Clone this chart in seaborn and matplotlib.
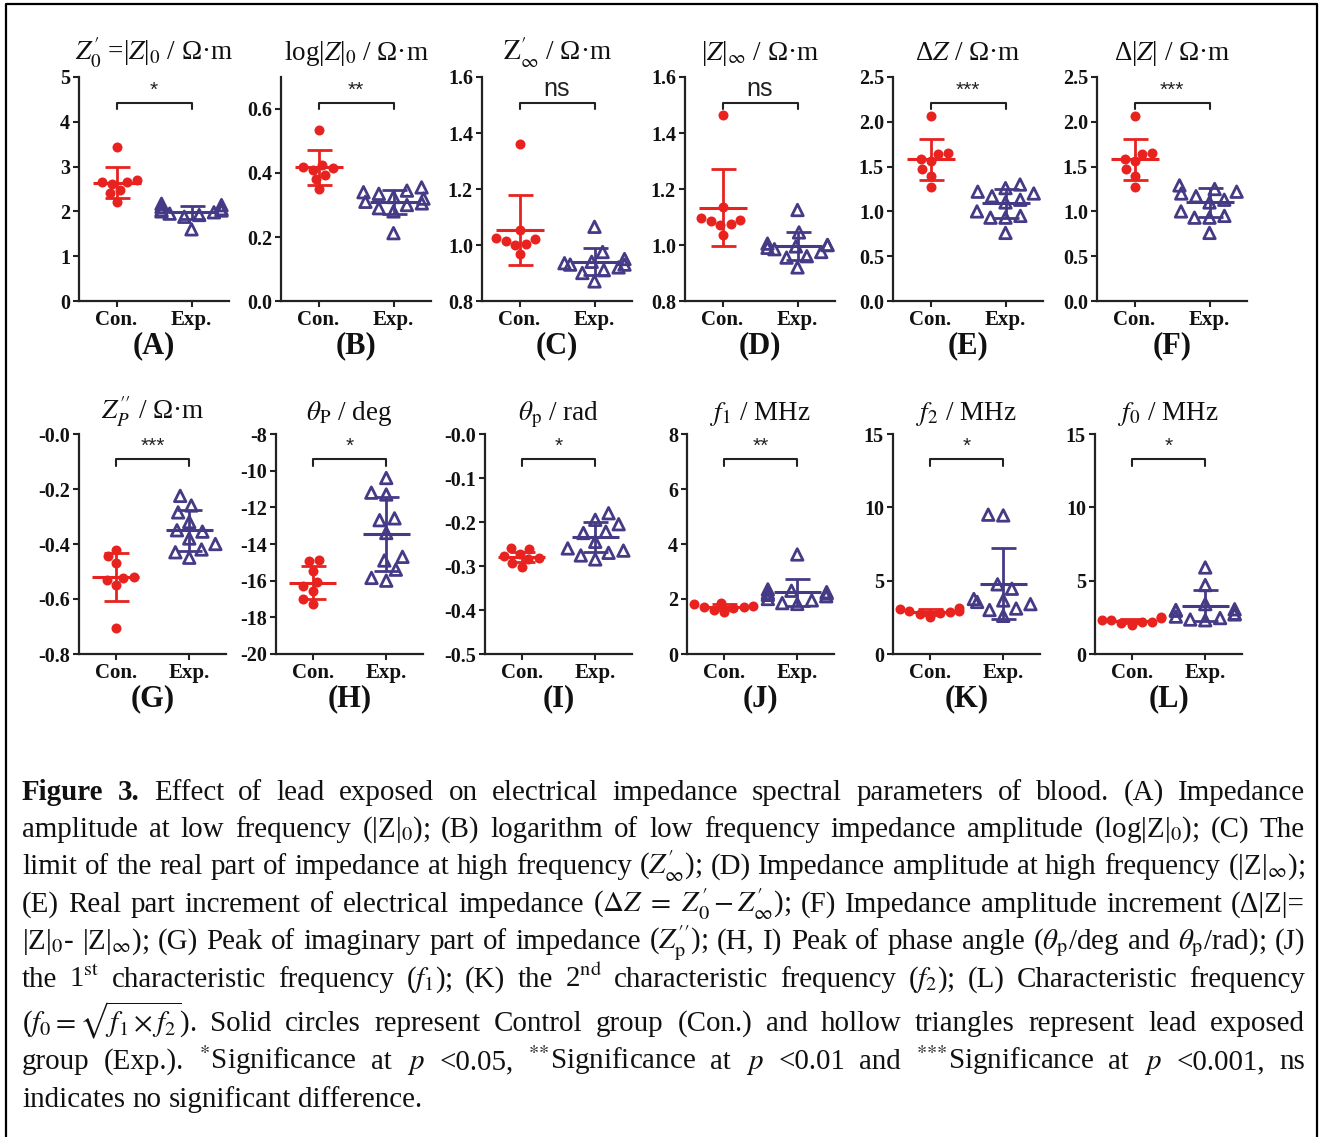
import warnings
warnings.filterwarnings("ignore")
import numpy as np
import pandas as pd
import matplotlib
matplotlib.use("Agg")
import matplotlib.pyplot as plt
import seaborn as sns
from matplotlib.transforms import blended_transform_factory
from matplotlib.lines import Line2D

# ---------------- data ----------------
groups = ["Con.", "Exp."]
panel_ids = ["A", "B", "C", "D", "E", "F", "G", "H", "I", "J", "K", "L"]
titles = [
    r"$Z_0^{\prime}$ =|$Z$|$_0$ / Ω·m",
    r"log|$Z$|$_0$ / Ω·m",
    r"$\mathrm{Z}_{\infty}^{\prime}$ / Ω·m",
    r"|$Z$|$_{\infty}$ / Ω·m",
    r"Δ$Z$ / Ω·m",
    r"Δ|$Z$| / Ω·m",
    r"$Z_{P}^{\prime\prime}$ / Ω·m",
    r"$\theta_{\mathrm{P}}$ / deg",
    r"$\theta_{\mathrm{p}}$ / rad",
    r"$f_1$ / MHz",
    r"$f_2$ / MHz",
    r"$f_0$ / MHz",
]
sig_labels = ["*", "**", "ns", "ns", "***", "***", "***", "*", "*", "**", "*", "*"]

con_A = [3.43, 2.70, 2.65, 2.65, 2.62, 2.48, 2.40, 2.22]
exp_A = [2.17, 2.14, 2.10, 2.05, 2.03, 2.02, 2.00, 1.98, 1.95, 1.92, 1.88, 1.60]
mean_A, sd_A = [2.64, 1.98], [0.35, 0.15]

con_B = [0.535, 0.425, 0.42, 0.415, 0.41, 0.395, 0.38, 0.35]
exp_B = [0.355, 0.345, 0.34, 0.335, 0.325, 0.32, 0.31, 0.305, 0.30, 0.29, 0.28, 0.212]
mean_B, sd_B = [0.418, 0.31], [0.054, 0.038]

con_C = [1.36, 1.055, 1.025, 1.02, 1.015, 1.005, 1.0, 0.967]
exp_C = [1.065, 0.975, 0.95, 0.94, 0.935, 0.93, 0.93, 0.92, 0.91, 0.90, 0.87]
mean_C, sd_C = [1.055, 0.94], [0.125, 0.048]

con_D = [1.465, 1.135, 1.095, 1.09, 1.085, 1.075, 1.07, 1.035]
exp_D = [1.125, 1.045, 1.005, 1.0, 1.0, 0.995, 0.99, 0.985, 0.975, 0.96, 0.955, 0.92]
mean_D, sd_D = [1.133, 0.998], [0.137, 0.05]

con_E = [2.06, 1.65, 1.64, 1.58, 1.56, 1.47, 1.40, 1.27]
exp_E = [1.30, 1.26, 1.22, 1.20, 1.17, 1.13, 1.10, 1.00, 0.95, 0.93, 0.93, 0.76]
mean_E, sd_E = [1.58, 1.09], [0.23, 0.16]

con_F = [2.06, 1.65, 1.64, 1.58, 1.56, 1.47, 1.40, 1.27]
exp_F = [1.29, 1.25, 1.22, 1.20, 1.17, 1.13, 1.10, 1.00, 0.95, 0.93, 0.93, 0.76]
mean_F, sd_F = [1.58, 1.10], [0.23, 0.16]

con_G = [-0.42, -0.445, -0.47, -0.52, -0.525, -0.53, -0.55, -0.705]
exp_G = [-0.225, -0.26, -0.285, -0.32, -0.35, -0.355, -0.38, -0.40, -0.42, -0.43, -0.45]
mean_G, sd_G = [-0.52, -0.35], [0.086, 0.074]

con_H = [-14.85, -14.95, -15.45, -16.05, -16.3, -16.55, -17.0, -17.25]
exp_H = [-10.4, -11.2, -11.3, -12.6, -12.7, -13.4, -14.7, -14.9, -15.4, -15.85, -16.0]
mean_H, sd_H = [-16.1, -13.45], [0.88, 2.0]

con_I = [-0.26, -0.262, -0.272, -0.278, -0.282, -0.285, -0.293, -0.303]
exp_I = [-0.18, -0.195, -0.205, -0.222, -0.225, -0.245, -0.26, -0.265, -0.27, -0.276, -0.285]
mean_I, sd_I = [-0.28, -0.235], [0.012, 0.034]

con_J = [1.87, 1.82, 1.76, 1.72, 1.70, 1.66, 1.60, 1.52]
exp_J = [3.62, 2.35, 2.30, 2.25, 2.22, 2.20, 2.15, 2.10, 2.00, 1.95, 1.85, 1.82]
mean_J, sd_J = [1.71, 2.24], [0.11, 0.50]

con_K = [3.15, 3.05, 2.95, 2.90, 2.85, 2.80, 2.70, 2.55]
exp_K = [9.5, 9.45, 4.75, 4.45, 3.75, 3.65, 3.55, 3.40, 3.10, 3.00, 2.60]
mean_K, sd_K = [2.87, 4.80], [0.18, 2.40]

con_L = [2.50, 2.45, 2.35, 2.30, 2.20, 2.15, 2.10, 2.00]
exp_L = [5.9, 4.7, 3.4, 3.05, 3.0, 2.95, 2.75, 2.7, 2.55, 2.45, 2.35, 2.30]
mean_L, sd_L = [2.26, 3.28], [0.15, 1.05]

ylims = [(0, 5), (0, 0.7), (0.8, 1.6), (0.8, 1.6), (0, 2.5), (0, 2.5),
         (-0.8, 0.0), (-20, -8), (-0.5, 0.0), (0, 8), (0, 15), (0, 15)]
yticks_A = [0, 1, 2, 3, 4, 5];            ylabels_A = ["0", "1", "2", "3", "4", "5"]
yticks_B = [0, 0.2, 0.4, 0.6];            ylabels_B = ["0.0", "0.2", "0.4", "0.6"]
yticks_C = [0.8, 1.0, 1.2, 1.4, 1.6];     ylabels_C = ["0.8", "1.0", "1.2", "1.4", "1.6"]
yticks_E = [0, 0.5, 1.0, 1.5, 2.0, 2.5];  ylabels_E = ["0.0", "0.5", "1.0", "1.5", "2.0", "2.5"]
yticks_G = [-0.8, -0.6, -0.4, -0.2, 0.0]; ylabels_G = ["-0.8", "-0.6", "-0.4", "-0.2", "-0.0"]
yticks_H = [-20, -18, -16, -14, -12, -10, -8]
ylabels_H = ["-20", "-18", "-16", "-14", "-12", "-10", "-8"]
yticks_I = [-0.5, -0.4, -0.3, -0.2, -0.1, 0.0]
ylabels_I = ["-0.5", "-0.4", "-0.3", "-0.2", "-0.1", "-0.0"]
yticks_J = [0, 2, 4, 6, 8];               ylabels_J = ["0", "2", "4", "6", "8"]
yticks_K = [0, 5, 10, 15];                ylabels_K = ["0", "5", "10", "15"]

con_all = [con_A, con_B, con_C, con_D, con_E, con_F, con_G, con_H, con_I, con_J, con_K, con_L]
exp_all = [exp_A, exp_B, exp_C, exp_D, exp_E, exp_F, exp_G, exp_H, exp_I, exp_J, exp_K, exp_L]
means = [mean_A, mean_B, mean_C, mean_D, mean_E, mean_F, mean_G, mean_H, mean_I, mean_J, mean_K, mean_L]
sds = [sd_A, sd_B, sd_C, sd_D, sd_E, sd_F, sd_G, sd_H, sd_I, sd_J, sd_K, sd_L]
yticks_all = [yticks_A, yticks_B, yticks_C, yticks_C, yticks_E, yticks_E,
              yticks_G, yticks_H, yticks_I, yticks_J, yticks_K, yticks_K]
ylabels_all = [ylabels_A, ylabels_B, ylabels_C, ylabels_C, ylabels_E, ylabels_E,
               ylabels_G, ylabels_H, ylabels_I, ylabels_J, ylabels_K, ylabels_K]

caption_lines = [
    ["Figure", "3.", "Effect", "of", "lead", "exposed", "on", "electrical", "impedance",
     "spectral", "parameters", "of", "blood.", "(A)", "Impedance"],
    ["amplitude", "at", "low", "frequency", r"(|Z|$_{\mathrm{0}}$);", "(B)", "logarithm", "of",
     "low", "frequency", "impedance", "amplitude", r"(log|Z|$_{\mathrm{0}}$);", "(C)", "The"],
    ["limit", "of", "the", "real", "part", "of", "impedance", "at", "high", "frequency",
     r"($Z_{\infty}^{\prime}$);", "(D)", "Impedance", "amplitude", "at", "high", "frequency",
     r"(|Z|$_{\infty}$);"],
    ["(E)", "Real", "part", "increment", "of", "electrical", "impedance",
     r"($\Delta Z\ =\ Z_0^{\prime} - Z_{\infty}^{\prime}$);", "(F)", "Impedance", "amplitude",
     "increment", "(Δ|Z|="],
    [r"|Z|$_{\mathrm{0}}$-", r"|Z|$_{\infty}$);", "(G)", "Peak", "of", "imaginary", "part", "of",
     "impedance", r"($Z_{\mathrm{p}}^{\prime\prime}$);", "(H,", "I)", "Peak", "of", "phase", "angle",
     r"($\theta_{\mathrm{p}}$/deg", "and", r"$\theta_{\mathrm{p}}$/rad);", "(J)"],
    ["the", r"1$^{\mathrm{st}}$", "characteristic", "frequency", r"($f_{\mathrm{1}}$);", "(K)", "the",
     r"2$^{\mathrm{nd}}$", "characteristic", "frequency", r"($f_{\mathrm{2}}$);", "(L)",
     "Characteristic", "frequency"],
    [r"($f_0 = \sqrt{f_1 \times f_2}$).", "Solid", "circles", "represent", "Control", "group",
     "(Con.)", "and", "hollow", "triangles", "represent", "lead", "exposed"],
    ["group", "(Exp.).", r"$^{\text{*}}$Significance", "at", r"$p$", "<0.05,",
     r"$^{\text{**}}$Significance", "at", r"$p$", "<0.01", "and",
     r"$^{\text{***}}$Significance", "at", r"$p$", "<0.001,", "ns"],
    ["indicates", "no", "significant", "difference."],
]

# ---------------- style ----------------
sns.set_style("ticks")
plt.rcParams["font.family"] = ["Liberation Serif", "DejaVu Serif"]
plt.rcParams["mathtext.fontset"] = "stix"

RED = "#E8231F"
PURPLE = "#453A86"
DARK = "#222222"

W, H = 1320, 1137
fig = plt.figure(figsize=(W / 100, H / 100), dpi=100)

top_lefts = [79, 281, 482, 685, 893, 1097]
bot_lefts = [79, 276, 485, 687, 893, 1095]
rows = [(77, 301, 150, top_lefts), (434, 654, 147, bot_lefts)]

for k in range(12):
    r = k // 6
    top, bottom, width, lefts = rows[r]
    left = lefts[k % 6]
    ax = fig.add_axes([left / W, 1 - bottom / H, width / W, (bottom - top) / H])

    df_con = pd.DataFrame({"group": "Con.", "value": con_all[k]})
    df_exp = pd.DataFrame({"group": "Exp.", "value": exp_all[k]})
    sns.swarmplot(data=df_con, x="group", y="value", order=groups, color=RED,
                  size=7.2, marker="o", linewidth=0, ax=ax, zorder=2)
    sns.swarmplot(data=df_exp, x="group", y="value", order=groups, color=PURPLE,
                  size=8.3, marker="^", linewidth=2.0, edgecolor=PURPLE, ax=ax, zorder=2)
    coll = ax.collections[-1]
    coll.set_facecolor("none")
    coll.set_edgecolor(PURPLE)
    coll.set_linewidth(2.0)

    for i, c in enumerate([RED, PURPLE]):
        ax.errorbar(i, means[k][i], yerr=sds[k][i], fmt="none", ecolor=c,
                    elinewidth=2.0, capsize=9, capthick=2.0, zorder=4)
        ax.hlines(means[k][i], i - 0.32, i + 0.32, colors=c, linewidth=2.2, zorder=4)

    ax.set_xlim(-0.5, 1.5)
    ax.set_ylim(*ylims[k])
    ax.set_yticks(yticks_all[k])
    ax.set_yticklabels(ylabels_all[k])
    ax.set_xlabel("")
    ax.set_ylabel("")
    for s in ["top", "right"]:
        ax.spines[s].set_visible(False)
    for s in ["left", "bottom"]:
        ax.spines[s].set_linewidth(1.6)
        ax.spines[s].set_color(DARK)
    ax.tick_params(axis="both", direction="out", length=4.5, width=1.5, color=DARK,
                   labelsize=14.5, pad=2, labelcolor="#111111")
    ax.tick_params(axis="x", labelsize=15)
    for lab in ax.get_xticklabels() + ax.get_yticklabels():
        lab.set_fontweight("bold")

    ax.set_title(titles[k], fontsize=19.5, pad=12 if r == 0 else 10, color="#111111")

    # significance bracket
    tr = blended_transform_factory(ax.transData, ax.transAxes)
    ax.plot([0, 0, 1, 1], [0.855, 0.885, 0.885, 0.855], transform=tr, color=DARK,
            linewidth=1.5, clip_on=False, zorder=5)
    if sig_labels[k] == "ns":
        ax.text(0.5, 0.895, "ns", transform=tr, ha="center", va="bottom", fontsize=18,
                family=["Liberation Sans", "DejaVu Sans"], color=DARK)
    else:
        ax.text(0.5, 0.90, sig_labels[k], transform=tr, ha="center", va="bottom", fontsize=15,
                family=["Liberation Sans", "DejaVu Sans"], color=DARK)

    ax.annotate(f"({panel_ids[k]})", xy=(0.5, 0), xycoords="axes fraction",
                xytext=(0, -32.5), textcoords="offset points", ha="center", va="center",
                fontsize=22, fontweight="bold", color="#111111")

# ---------------- caption (justified) ----------------
renderer = fig.canvas.get_renderer()
centers = [792, 829, 866, 904, 941, 979, 1023, 1061, 1099]
xl, xr = 22, 1305
cap_size = 20.9
for li, words in enumerate(caption_lines):
    yb = 1 - (centers[li] + 8) / H
    texts = []
    for j, w in enumerate(words):
        bold = (li == 0 and j < 2)
        t = fig.text(0, yb, w, fontsize=cap_size, fontweight="bold" if bold else "normal",
                     ha="left", va="baseline", color="#111111")
        texts.append(t)
    widths = [t.get_window_extent(renderer).width for t in texts]
    if li < len(caption_lines) - 1:
        gap = (xr - xl - sum(widths)) / (len(words) - 1)
    else:
        gap = cap_size * 0.25 * 100 / 72
    x = xl
    for t, wd in zip(texts, widths):
        t.set_x(x / W)
        x += wd + gap

# ---------------- frame ----------------
fig.add_artist(Line2D([6 / W, 6 / W, 1317 / W, 1317 / W], [0, 1 - 4 / H, 1 - 4 / H, 0],
                      transform=fig.transFigure, color="black", linewidth=1.6))

fig.savefig("out.png", dpi=100, facecolor="white")
